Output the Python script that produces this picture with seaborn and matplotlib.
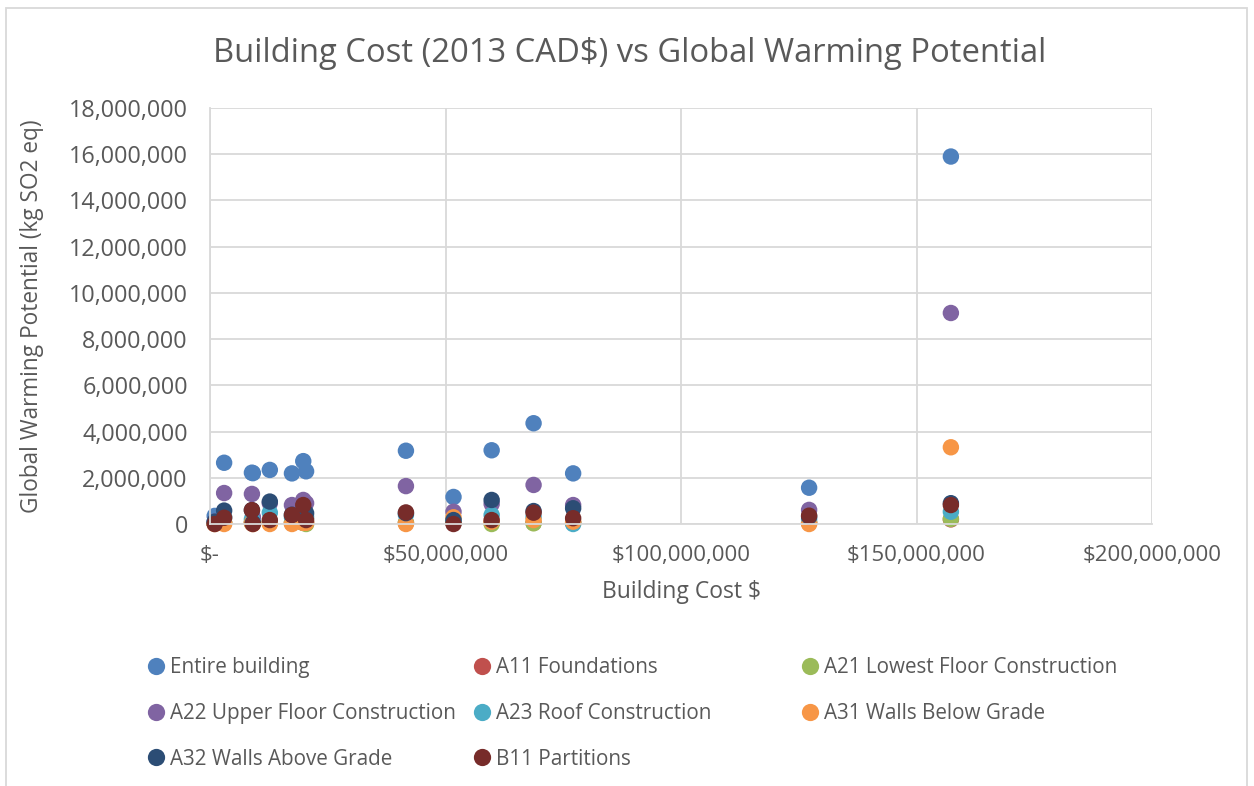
import pandas as pd
import matplotlib.pyplot as plt
import seaborn as sns
from matplotlib.patches import Rectangle
from matplotlib.ticker import FuncFormatter, MultipleLocator

# building cost, millions of 2013 CAD$
building_cost = [1.0, 3.0, 8.9, 9.1, 12.7, 17.4, 19.8, 20.4, 41.6, 51.7, 59.8, 68.7, 77.1, 127.2, 157.3]

# global warming potential per series, millions of kg
entire_building = [0.35, 2.65, 2.22, 2.20, 2.34, 2.19, 2.72, 2.28, 3.17, 1.17, 3.19, 4.36, 2.19, 1.57, 15.9]
a11_foundations = [0.02, 0.05, 0.05, 0.02, 0.05, 0.05, 0.05, 0.03, 0.05, 0.05, 0.05, 0.05, 0.05, 0.05, 0.20]
a21_lowest_floor = [0.02, 0.05, 0.05, 0.02, 0.05, 0.05, 0.05, 0.0, 0.05, 0.05, 0.0, 0.03, 0.05, 0.05, 0.22]
a22_upper_floor = [0.10, 1.34, 1.30, 0.30, 0.90, 0.82, 1.04, 0.90, 1.64, 0.53, 0.87, 1.69, 0.82, 0.61, 9.13]
a23_roof = [0.05, 0.30, 0.20, 0.05, 0.49, 0.30, 0.40, 0.30, 0.40, 0.20, 0.39, 0.30, 0.0, 0.20, 0.53]
a31_walls_below = [0.0, 0.0, 0.05, 0.0, 0.0, 0.0, 0.05, 0.05, 0.0, 0.29, 0.10, 0.17, 0.10, 0.0, 3.32]
a32_walls_above = [0.10, 0.58, 0.60, 0.05, 0.97, 0.40, 0.50, 0.47, 0.47, 0.17, 1.04, 0.56, 0.68, 0.32, 0.90]
b11_partitions = [0.0, 0.27, 0.60, 0.0, 0.17, 0.39, 0.82, 0.17, 0.50, 0.0, 0.17, 0.49, 0.25, 0.36, 0.82]

series_names = ['Entire building', 'A11 Foundations', 'A21 Lowest Floor Construction',
                'A22 Upper Floor Construction', 'A23 Roof Construction', 'A31 Walls Below Grade',
                'A32 Walls Above Grade', 'B11 Partitions']
series_values = [entire_building, a11_foundations, a21_lowest_floor, a22_upper_floor,
                 a23_roof, a31_walls_below, a32_walls_above, b11_partitions]
colors = ['#4F81BD', '#C0504D', '#9BBB59', '#8064A2', '#4BACC6', '#F79646', '#2C4D75', '#772C2A']

# long table, series in order so later ones sit on top
rows = []
for name, vals in zip(series_names, series_values):
    for c, v in zip(building_cost, vals):
        rows.append({'cost': c * 1e6, 'gwp': v * 1e6, 'series': name})
df = pd.DataFrame(rows)

sns.set_style('white')
plt.rcParams['font.family'] = ['Open Sans', 'DejaVu Sans']
txt = '#595959'
grid = '#D9D9D9'

fig = plt.figure(figsize=(12.54, 7.86), dpi=100)
ax = fig.add_axes([210 / 1254, 1 - 524 / 786, (1152 - 210) / 1254, (524 - 108) / 786])

sns.scatterplot(data=df, x='cost', y='gwp', hue='series', hue_order=series_names,
                palette=colors, s=140, edgecolor='none', linewidth=0, ax=ax, clip_on=False)

ax.set_xlim(0, 200e6)
ax.set_ylim(0, 18e6)
ax.xaxis.set_major_locator(MultipleLocator(50e6))
ax.yaxis.set_major_locator(MultipleLocator(2e6))
ax.xaxis.set_major_formatter(FuncFormatter(lambda v, p: '$-' if v == 0 else f'${v:,.0f}'))
ax.yaxis.set_major_formatter(FuncFormatter(lambda v, p: f'{v:,.0f}'))
ax.grid(True, color=grid, linewidth=1.3)
ax.set_axisbelow(True)
for side in ['top', 'right']:
    ax.spines[side].set_visible(False)
for side in ['left', 'bottom']:
    ax.spines[side].set_color(grid)
    ax.spines[side].set_linewidth(1.3)
ax.tick_params(axis='both', length=0, labelcolor=txt)
ax.tick_params(axis='x', pad=15, labelsize=16)
ax.tick_params(axis='y', pad=16, labelsize=16.8)

ax.set_xlabel('Building Cost $', fontsize=16.5, color=txt, labelpad=10)
ax.set_ylabel('Global Warming Potential (kg SO2 eq)', fontsize=16.3, color=txt, labelpad=18)
fig.text(630 / 1254, 1 - 54 / 786, 'Building Cost (2013 CAD$) vs Global Warming Potential',
         ha='center', va='center', fontsize=23.6, color=txt)

# legend laid out row-wise with equal column widths, like the reference
handles, labels = ax.get_legend_handles_labels()
ax.get_legend().remove()
columns = [[0, 3, 6], [1, 4, 7], [2, 5]]
col_x = [148, 474, 802]
for xpos, idx in zip(col_x, columns):
    leg = fig.legend([handles[i] for i in idx], [labels[i] for i in idx],
                     loc='upper left', bbox_to_anchor=(xpos / 1254, 1 - 657 / 786),
                     frameon=False, fontsize=14.9, labelcolor=txt, borderpad=0,
                     borderaxespad=0, handlelength=0.8, handletextpad=0.28,
                     labelspacing=1.2, markerscale=1.05)

fig.patches.append(Rectangle((6 / 1254, -0.05), (1247 - 6) / 1254, 1.05 - 8 / 786,
                             transform=fig.transFigure, fill=False, edgecolor=grid,
                             linewidth=1.3))

fig.savefig('out.png', dpi=100, facecolor='white')
